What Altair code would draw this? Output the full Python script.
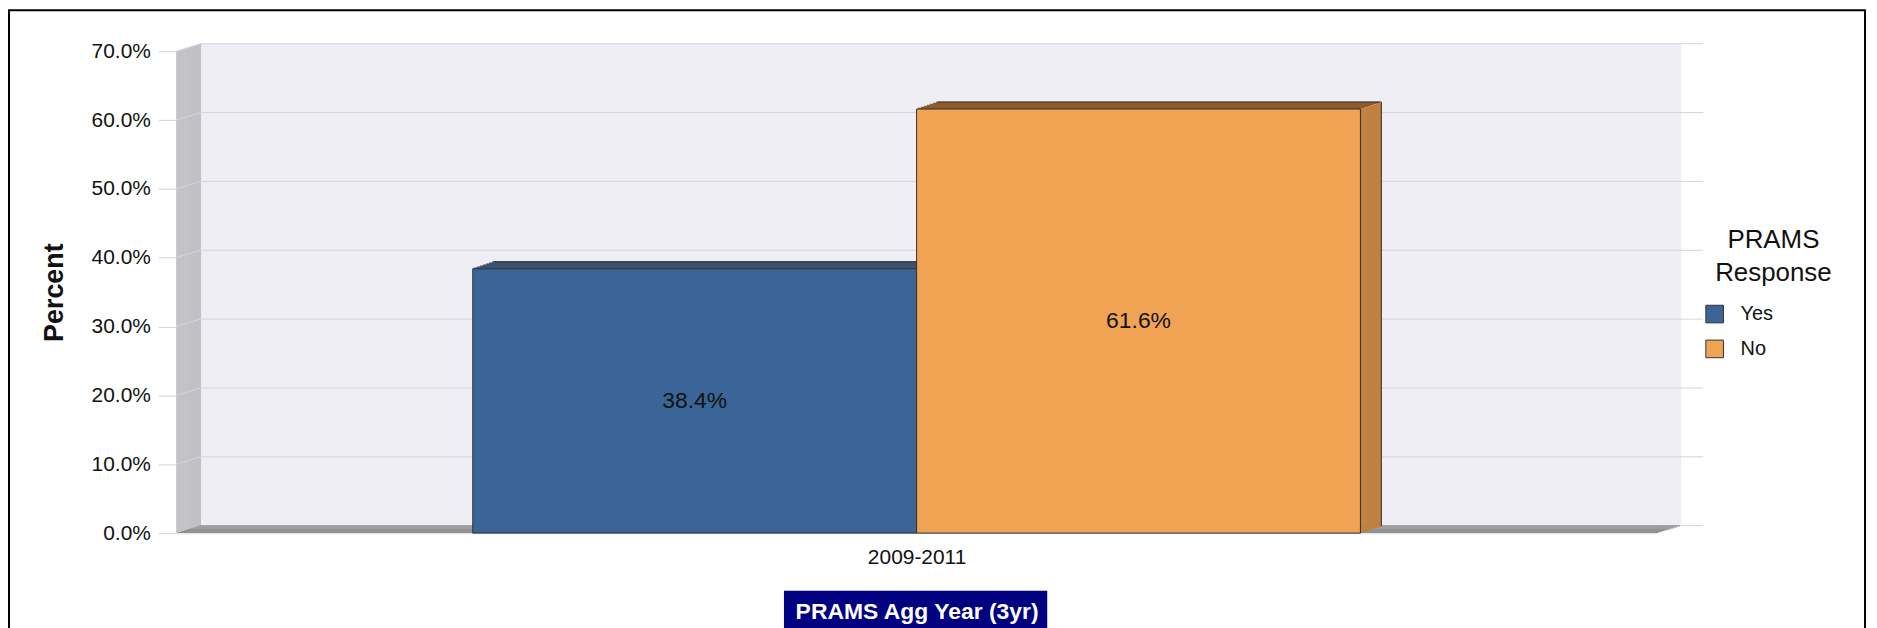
import altair as alt
import pandas as pd

# ---------------- data ----------------
periods = ["2009-2011"]
responses = ["Yes", "No"]
values = [38.4, 61.6]
value_labels = ["38.4%", "61.6%"]
y_ticks = [0, 10, 20, 30, 40, 50, 60, 70]
legend_title = ["PRAMS", "Response"]
y_title = "Percent"
x_title = "PRAMS Agg Year (3yr)"

# ---------------- styles ----------------
FONT = "Liberation Sans"
front_colors = ["#3a6596", "#efa353"]
top_colors = ["#243a5b", "#8c5b2e"]
side_colors = ["#2c4e76", "#c0803f"]
WALL = "#efeef4"
SIDE_WALL = "#c1c1c5"
FLOOR = "#929292"
GRID = "#d3d3e3"
EDGE = "#2e2e2e"

W, H = 1487, 484
WALL_DX, WALL_DY = 24.5, 7.5
BAR_DX, BAR_DY = 21.0, 7.0

bars = pd.DataFrame({
    "Period": periods * len(responses),
    "Response": responses,
    "Value": values,
    "Label": value_labels,
})
ticks_df = pd.DataFrame({"tick": y_ticks})
one = pd.DataFrame({"Period": periods, "Title": [x_title]})

y_scale = alt.Scale(domain=[0, 70], nice=False, zero=True)
x_scale = alt.Scale(type="band", domain=responses, paddingInner=0, paddingOuter=0.668)


def xr(**kw):
    return alt.X("Response:N", scale=x_scale, axis=None, **kw)


def yv():
    return alt.Y("Value:Q", scale=y_scale)


def by_response(colors):
    return alt.when(alt.datum.Response == responses[0]).then(alt.value(colors[0])).otherwise(alt.value(colors[1]))


layers = []

# back wall
layers.append(
    alt.Chart(one).mark_rect(fill=WALL, yOffset=-WALL_DY, y2Offset=-WALL_DY).encode(
        x=alt.value(WALL_DX), x2=alt.value(W + WALL_DX),
        y=alt.YDatum(70), y2=alt.Y2Datum(0)
    )
)

# side wall (slanted, built from thin vertical strips)
m = 12
for j in range(m):
    off = -WALL_DY * (j + 0.5) / m
    layers.append(
        alt.Chart(one).mark_rect(fill=SIDE_WALL, yOffset=off, y2Offset=off).encode(
            x=alt.value(WALL_DX * j / m), x2=alt.value(WALL_DX * (j + 1) / m + 0.4),
            y=alt.YDatum(70), y2=alt.Y2Datum(0)
        )
    )

# gridlines on back wall
layers.append(
    alt.Chart(ticks_df).mark_rule(stroke=GRID, strokeWidth=1, yOffset=-WALL_DY).encode(
        x=alt.value(WALL_DX), x2=alt.value(W + WALL_DX + 22),
        y=alt.Y("tick:Q", scale=y_scale)
    )
)
# gridlines on side wall (diagonal)
layers.append(
    alt.Chart(ticks_df).mark_rule(stroke=GRID, strokeWidth=1, y2Offset=-WALL_DY).encode(
        x=alt.value(0), x2=alt.value(WALL_DX),
        y=alt.Y("tick:Q", scale=y_scale), y2=alt.Y2("tick:Q")
    )
)

# floor (slanted, horizontal strips)
n = 8
for i in range(n):
    xs = WALL_DX * (i + 0.5) / n
    layers.append(
        alt.Chart(one).mark_rect(
            fill=FLOOR, yOffset=-WALL_DY * (i + 1) / n - 0.3, y2Offset=-WALL_DY * i / n
        ).encode(
            x=alt.value(xs), x2=alt.value(W + xs),
            y=alt.YDatum(0), y2=alt.Y2Datum(0)
        )
    )

# bar top faces (strips)
nt = 7
for i in range(nt):
    xs = BAR_DX * (i + 0.5) / nt
    layers.append(
        alt.Chart(bars).mark_bar(
            xOffset=xs, x2Offset=xs,
            yOffset=-BAR_DY * (i + 1) / nt - 0.3, y2Offset=-BAR_DY * i / nt
        ).encode(
            x=xr(), y=yv(), y2=alt.Y2("Value:Q"),
            fill=by_response(top_colors)
        )
    )
# top edge line of top faces
layers.append(
    alt.Chart(bars).mark_bar(
        fill=EDGE, xOffset=BAR_DX, x2Offset=BAR_DX,
        yOffset=-BAR_DY - 0.5, y2Offset=-BAR_DY + 0.5
    ).encode(x=xr(), y=yv(), y2=alt.Y2("Value:Q"))
)

# bar side faces (strips)
ms = 10
for j in range(ms):
    off = -BAR_DY * (j + 0.5) / ms
    layers.append(
        alt.Chart(bars).mark_rule(
            strokeWidth=BAR_DX / ms + 0.5, xOffset=BAR_DX * (j + 0.5) / ms,
            yOffset=off, y2Offset=off
        ).encode(
            x=xr(bandPosition=1), y=yv(), y2=alt.Y2Datum(0),
            stroke=by_response(side_colors)
        )
    )
# right edge of side faces
layers.append(
    alt.Chart(bars).mark_rule(
        stroke=EDGE, strokeWidth=1, xOffset=BAR_DX, yOffset=-BAR_DY, y2Offset=-BAR_DY
    ).encode(x=xr(bandPosition=1), y=yv(), y2=alt.Y2Datum(0))
)

# front faces
yaxis = alt.Axis(
    values=y_ticks, labelExpr="format(datum.value, '.1f') + '%'",
    title=y_title, titleFontSize=27, titleFont=FONT, titleFontWeight="bold", titleColor="#111",
    titlePadding=23, labelFontSize=21, labelFont=FONT, labelColor="#111", labelPadding=8,
    tickSize=18, tickColor=GRID, tickWidth=1, domain=False, grid=False, zindex=5
)
legend = alt.Legend(
    title=legend_title, orient="none", legendX=1535, legendY=177,
    titleFontSize=26, titleFont=FONT, titleFontWeight="normal", titleColor="#111",
    titleAnchor="end", titleAlign="center", titleLineHeight=33, titlePadding=18,
    labelFontSize=20, labelFont=FONT, labelColor="#111", labelOffset=16,
    symbolType="square", symbolSize=313, symbolStrokeColor="#333", symbolStrokeWidth=1,
    symbolOpacity=1, rowPadding=13, padding=0, zindex=5
)
layers.append(
    alt.Chart(bars).mark_bar(stroke=EDGE, strokeWidth=1).encode(
        x=xr(),
        y=alt.Y("Value:Q", scale=y_scale, axis=yaxis),
        color=alt.Color("Response:N", scale=alt.Scale(domain=responses, range=front_colors), legend=legend),
    )
)

# value labels
layers.append(
    alt.Chart(bars).transform_calculate(mid="datum.Value / 2").mark_text(
        font=FONT, fontSize=23, color="#111", baseline="middle", align="center"
    ).encode(x=xr(), y=alt.Y("mid:Q", scale=y_scale), text="Label:N")
)

# category axis (period)
layers.append(
    alt.Chart(one).mark_point(opacity=0, size=0).encode(
        x=alt.X("Period:N", axis=alt.Axis(
            title=None, labelFontSize=21, labelFont=FONT, labelColor="#111", labelAngle=0,
            ticks=False, tickSize=0, domain=False, grid=False, labelPadding=14
        )),
        y=alt.YDatum(0)
    )
)

# x title in navy box
layers.append(
    alt.Chart(one).mark_rect(fill="#000080").encode(
        x=alt.value(610.3), x2=alt.value(874.7), y=alt.value(542), y2=alt.value(640)
    )
)
layers.append(
    alt.Chart(one).mark_text(
        font=FONT, fontSize=23, fontWeight="bold", color="white", align="center", baseline="alphabetic"
    ).encode(x=alt.value(744), y=alt.value(570.5), text="Title:N")
)

# outer border (unfilled)
layers.append(
    alt.Chart(one).mark_rect(filled=False, stroke="#000", strokeWidth=2).encode(
        x=alt.value(-168), x2=alt.value(1696), y=alt.value(-41), y2=alt.value(640)
    )
)

chart = alt.layer(*layers).resolve_scale(x="independent").properties(
    width=W, height=H,
    padding={"left": 169, "top": 42, "right": 213, "bottom": 114},
    autosize=alt.AutoSizeParams(type="none"),
    background="white",
).configure_view(stroke=None, fill=None).configure(font=FONT)

chart.save("out.html", embed_options={"renderer": "svg", "actions": False})
